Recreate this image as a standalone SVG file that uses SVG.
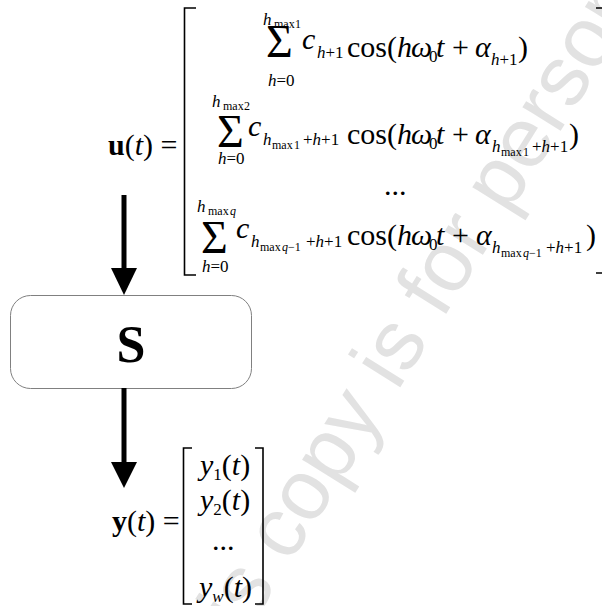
<svg xmlns="http://www.w3.org/2000/svg" width="602" height="606" viewBox="0 0 602 606">
<style>
.m{font-family:"Liberation Serif","Times New Roman",serif;font-size:30px;fill:#000}
.i{font-style:italic}
.b{font-weight:bold}
.s{font-size:17px}
.ss{font-size:12px}
.sg{font-family:"Liberation Serif","Times New Roman",serif;font-size:46px;fill:#000}
.br{fill:none;stroke:#000;stroke-width:1.6}
.wm{font-family:"Liberation Sans",Arial,sans-serif;font-size:85px;fill:#e2e2e2}
</style>
<rect width="602" height="606" fill="#fff"/>
<g id="watermark">
<text class="wm" transform="translate(289.5,564.5) rotate(-58)" x="-184" y="0">This copy is for personal use only</text>
</g>
<g id="u-vector">
<text class="m" y="155"><tspan class="b" x="108">u</tspan><tspan>(</tspan><tspan class="i">t</tspan><tspan>) =</tspan></text>
<path class="br" d="M196,8 H184.5 V275 H196"/>
<path class="br" d="M596,8 H602 M596,273 H602"/>
<g id="row1">
<text class="m i s" x="263" y="25">h</text><text class="m ss" x="274" y="28">max<tspan x="295">1</tspan></text>
<text class="sg" x="266" y="57">Σ</text>
<text class="m s" x="268" y="86"><tspan class="i">h</tspan>=0</text>
<text class="m"><tspan class="i" x="302" y="49">c</tspan><tspan class="s i" x="317" y="58">h</tspan><tspan class="s">+1</tspan><tspan x="347" y="57">cos(</tspan><tspan class="i">h</tspan><tspan class="i" x="411">ω</tspan><tspan class="s" x="429" y="62">0</tspan><tspan class="i" x="436" y="57">t</tspan><tspan x="452">+</tspan><tspan class="i" x="475">α</tspan><tspan class="s i" x="491" y="65">h</tspan><tspan class="s">+1</tspan><tspan x="518" y="57">)</tspan></text>
</g>
<g id="row2">
<text class="m i s" x="212" y="107">h</text><text class="m ss" x="223" y="110">max<tspan x="244">2</tspan></text>
<text class="sg" x="217" y="147">Σ</text>
<text class="m s" x="218" y="164"><tspan class="i">h</tspan>=0</text>
<text class="m"><tspan class="i" x="248" y="136">c</tspan><tspan class="s i" x="263" y="145">h</tspan><tspan class="ss" x="272" y="149">max</tspan><tspan class="ss" x="294">1</tspan><tspan class="s" x="303" y="145">+</tspan><tspan class="s i">h</tspan><tspan class="s">+1</tspan><tspan x="347" y="144">cos(</tspan><tspan class="i">h</tspan><tspan class="i" x="411">ω</tspan><tspan class="s" x="429" y="149">0</tspan><tspan class="i" x="436" y="144">t</tspan><tspan x="452">+</tspan><tspan class="i" x="475">α</tspan><tspan class="s i" x="492" y="152">h</tspan><tspan class="ss" x="501" y="156">max</tspan><tspan class="ss" x="523">1</tspan><tspan class="s" x="532" y="152">+</tspan><tspan class="s i">h</tspan><tspan class="s">+1</tspan><tspan x="569" y="144">)</tspan></text>
</g>
<text class="m" x="384" y="195">...</text>
<g id="row3">
<text class="m i s" x="197" y="212">h</text><text class="m ss" x="208" y="215">max<tspan class="i" x="230">q</tspan></text>
<text class="sg" x="201" y="253">Σ</text>
<text class="m s" x="202" y="272"><tspan class="i">h</tspan>=0</text>
<text class="m"><tspan class="i" x="236" y="238">c</tspan><tspan class="s i" x="251" y="247">h</tspan><tspan class="ss" x="260" y="251">max</tspan><tspan class="ss i" x="282">q</tspan><tspan class="ss">−1</tspan><tspan class="s" x="306" y="247">+</tspan><tspan class="s i">h</tspan><tspan class="s">+1</tspan><tspan x="347" y="245">cos(</tspan><tspan class="i">h</tspan><tspan class="i" x="411">ω</tspan><tspan class="s" x="429" y="250">0</tspan><tspan class="i" x="436" y="245">t</tspan><tspan x="452">+</tspan><tspan class="i" x="476">α</tspan><tspan class="s i" x="492" y="253">h</tspan><tspan class="ss" x="501" y="257">max</tspan><tspan class="ss i" x="523">q</tspan><tspan class="ss">−1</tspan><tspan class="s" x="546" y="253">+</tspan><tspan class="s i">h</tspan><tspan class="s">+1</tspan><tspan x="586" y="245">)</tspan></text>
</g>
</g>
<g id="system-S">
<rect x="10.5" y="295.5" width="241" height="93" rx="20" ry="20" fill="#fff" stroke="#808080" stroke-width="1"/>
<text class="m b" x="131" y="362" text-anchor="middle" style="font-size:52px">S</text>
</g>
<g id="y-vector">
<text class="m" y="531"><tspan class="b" x="112">y</tspan><tspan>(</tspan><tspan class="i">t</tspan><tspan>) =</tspan></text>
<path class="br" d="M192,448 H183.5 V604 H192 M255,448 H263 V604 H255"/>
<text class="m"><tspan class="i" x="200" y="475">y</tspan><tspan class="s" y="480">1</tspan><tspan y="475">(</tspan><tspan class="i">t</tspan><tspan>)</tspan></text>
<text class="m"><tspan class="i" x="200" y="510">y</tspan><tspan class="s" y="515">2</tspan><tspan y="510">(</tspan><tspan class="i">t</tspan><tspan>)</tspan></text>
<text class="m" x="212" y="550">...</text>
<text class="m"><tspan class="i" x="199" y="597">y</tspan><tspan class="s i" y="602">w</tspan><tspan y="597">(</tspan><tspan class="i">t</tspan><tspan>)</tspan></text>
</g>
<g id="connectors">
<line x1="124" y1="195" x2="124" y2="270" stroke="#000" stroke-width="5"/>
<path d="M111,268 L137,268 L124,295 Z" fill="#000"/>
<line x1="124" y1="388" x2="124" y2="464" stroke="#000" stroke-width="5"/>
<path d="M111,462 L137,462 L124,488 Z" fill="#000"/>
</g>
</svg>
